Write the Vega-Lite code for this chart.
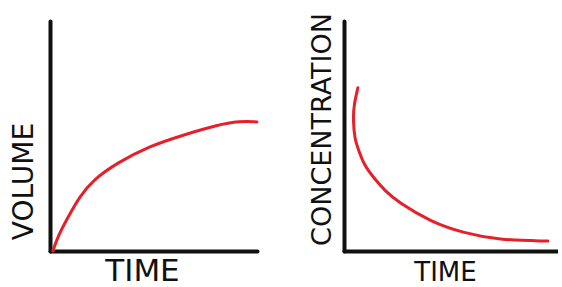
{
  "$schema": "https://vega.github.io/schema/vega-lite/v6.json",
  "autosize": {"type": "pad"},
  "padding": {"left": 10, "top": 12, "right": 0, "bottom": 0},
  "background": "white",
  "bounds": "flush",
  "spacing": 87,
  "config": {
    "view": {"stroke": null},
    "axis": {
      "domain": true, "domainColor": "#111111", "domainWidth": 4, "domainCap": "round",
      "ticks": false, "labels": false, "grid": false,
      "titleFont": "DejaVu Sans", "titleFontWeight": "normal", "titleColor": "#111111",
      "titleAlign": "center", "titleBaseline": "middle"
    }
  },
  "datasets": {
    "volume": [
      {"i": 0, "t": 1.4, "v": 0},
      {"i": 1, "t": 3.9, "v": 6.5},
      {"i": 2, "t": 8.2, "v": 13.9},
      {"i": 3, "t": 14.5, "v": 23.9},
      {"i": 4, "t": 20.8, "v": 30.9},
      {"i": 5, "t": 32.4, "v": 38.3},
      {"i": 6, "t": 48.3, "v": 45.7},
      {"i": 7, "t": 64.3, "v": 50.4},
      {"i": 8, "t": 80.7, "v": 54.8},
      {"i": 9, "t": 91.8, "v": 56.5},
      {"i": 10, "t": 100, "v": 56.1}
    ],
    "conc": [
      {"i": 0, "t": 6.5, "c": 71},
      {"i": 1, "t": 4.7, "c": 64},
      {"i": 2, "t": 4.2, "c": 57},
      {"i": 3, "t": 5.1, "c": 48.3},
      {"i": 4, "t": 6.5, "c": 44.8},
      {"i": 5, "t": 9.3, "c": 37.4},
      {"i": 6, "t": 14, "c": 31.7},
      {"i": 7, "t": 19.2, "c": 26.1},
      {"i": 8, "t": 25.2, "c": 21.3},
      {"i": 9, "t": 40.7, "c": 12.6},
      {"i": 10, "t": 56.1, "c": 7.8},
      {"i": 11, "t": 72, "c": 4.8},
      {"i": 12, "t": 95.3, "c": 4.3}
    ]
  },
  "hconcat": [
    {
      "width": 207,
      "height": 230,
      "data": {"name": "volume"},
      "mark": {"type": "line", "color": "#e5202a", "strokeWidth": 3, "interpolate": "basis", "strokeCap": "round"},
      "encoding": {
        "x": {"field": "t", "type": "quantitative", "scale": {"domain": [0, 100], "nice": false},
              "axis": {"title": "TIME", "titleFontSize": 31, "titleX": 92, "titleY": 20}},
        "y": {"field": "v", "type": "quantitative", "scale": {"domain": [0, 100], "nice": false},
              "axis": {"title": "VOLUME", "titleFontSize": 28, "titleAngle": -90, "titleX": -26, "titleY": 160}},
        "order": {"field": "i", "type": "quantitative"}
      }
    },
    {
      "width": 214,
      "height": 230,
      "data": {"name": "conc"},
      "mark": {"type": "line", "color": "#e5202a", "strokeWidth": 3, "interpolate": "basis", "strokeCap": "round"},
      "encoding": {
        "x": {"field": "t", "type": "quantitative", "scale": {"domain": [0, 100], "nice": false},
              "axis": {"title": "TIME", "titleFontSize": 26, "titleX": 101, "titleY": 21}},
        "y": {"field": "c", "type": "quantitative", "scale": {"domain": [0, 100], "nice": false},
              "axis": {"title": "CONCENTRATION", "titleFontSize": 27, "titleAngle": -90, "titleX": -22, "titleY": 108}},
        "order": {"field": "i", "type": "quantitative"}
      }
    }
  ]
}
